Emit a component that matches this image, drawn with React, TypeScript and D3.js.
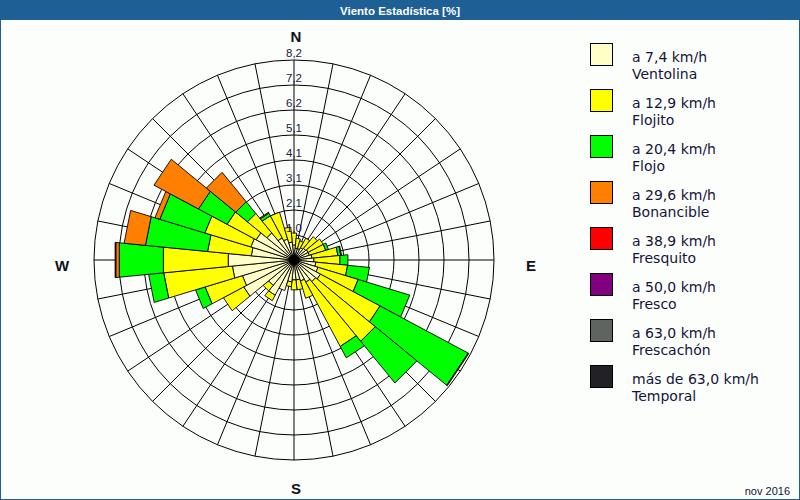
import React from 'react';
import * as d3 from 'd3';

// 32 wind directions, clockwise from North
const directions = ["N","NxE","NNE","NExN","NE","NExE","ENE","ExN","E","ExS","ESE","SExE","SE","SExS","SSE","SxE","S","SxW","SSW","SWxS","SW","SWxW","WSW","WxS","W","WxN","WNW","NWxW","NW","NWxN","NNW","NxW"];

// Frequencies [%] per speed class (stacked)
const ventolina  = [0.62,0.49,0.49,0.57,0.62,0.66,0.66,0.74,0.82,0.90,1.03,1.23,1.15,1.03,0.90,0.82,0.82,0.90,1.31,1.64,1.35,2.34,2.21,2.54,2.71,1.76,1.85,1.76,1.44,1.03,0.90,0.74];
const flojito    = [0.49,0.41,0.33,0.45,0.62,0.70,0.70,1.07,1.07,1.31,1.72,2.77,3.16,2.99,0.74,0.41,0.41,0.20,0.00,0.25,0.29,0.94,1.60,2.83,2.67,1.80,1.97,1.35,1.03,1.03,1.15,0.62];
const flojo      = [0.00,0.00,0.00,0.00,0.00,0.00,0.12,0.12,0.33,0.90,2.21,4.10,2.21,0.53,0.00,0.00,0.00,0.00,0.00,0.00,0.00,0.00,0.41,0.62,1.82,2.56,1.93,1.33,0.62,0.12,0.00,0.00];
const bonancible = [0.00,0.00,0.00,0.00,0.00,0.00,0.00,0.03,0.00,0.00,0.00,0.03,0.00,0.00,0.00,0.00,0.00,0.00,0.00,0.00,0.00,0.00,0.00,0.00,0.14,0.88,0.21,2.07,1.56,0.04,0.00,0.00];
const fresquito  = [0,0,0,0,0,0,0,0,0,0,0,0,0,0,0,0,0,0,0,0,0,0,0,0,0.03,0,0,0,0,0,0,0];
const fresco     = [0,0,0,0,0,0,0,0,0,0,0,0,0,0,0,0,0,0,0,0,0,0,0,0,0,0,0,0,0,0,0,0];
const frescachon = [0,0,0,0,0,0,0,0,0,0,0,0,0,0,0,0,0,0,0,0,0,0,0,0,0,0,0,0,0,0,0,0];
const temporal   = [0,0,0,0,0,0,0,0,0,0,0,0,0,0,0,0,0,0,0,0,0,0,0,0,0,0,0,0,0,0,0,0];

const ringValues = [1.025, 2.05, 3.075, 4.1, 5.125, 6.15, 7.175, 8.2];
const ringLabels = ["1,0", "2,1", "3,1", "4,1", "5,1", "6,2", "7,2", "8,2"];

const legendSpeeds = ["a 7,4 km/h", "a 12,9 km/h", "a 20,4 km/h", "a 29,6 km/h", "a 38,9 km/h", "a 50,0 km/h", "a 63,0 km/h", "más de 63,0 km/h"];
const legendNames = ["Ventolina", "Flojito", "Flojo", "Bonancible", "Fresquito", "Fresco", "Frescachón", "Temporal"];
const classColors = ["#ffffc8", "#ffff00", "#00ff00", "#ff8000", "#ff0000", "#800080", "#606460", "#222226"];

const compass = [
  { label: "N", x: 296, y: 42 },
  { label: "E", x: 531, y: 271 },
  { label: "S", x: 296, y: 494 },
  { label: "W", x: 62, y: 271 },
];

const title = "Viento Estadística [%]";
const footer = "nov 2016";

export default function App() {
  const W = 800, H = 500;
  const cx = 294, cy = 260;
  const maxR = 200;
  const series = [ventolina, flojito, flojo, bonancible, fresquito, fresco, frescachon, temporal];

  const r = d3.scaleLinear().domain([0, 8.2]).range([0, maxR]);
  const ang = d3.scaleLinear().domain([0, directions.length]).range([0, 2 * Math.PI]);
  const half = Math.PI / directions.length;

  const pt = (rad: number, a: number): [number, number] => [cx + rad * Math.sin(a), cy - rad * Math.cos(a)];
  const line = d3.line();

  const segments: { d: string; fill: string; key: string }[] = [];
  directions.forEach((dir, i) => {
    const a = ang(i);
    let acc = 0;
    series.forEach((s, k) => {
      const v = s[i];
      if (v <= 0) return;
      const r0 = r(acc), r1 = r(acc + v);
      acc += v;
      const d = line([pt(r0, a - half), pt(r1, a - half), pt(r1, a + half), pt(r0, a + half)]) + 'Z';
      segments.push({ d, fill: classColors[k], key: dir + k });
    });
  });

  const spokes = d3.range(directions.length).map(i => {
    const a = ang(i);
    const [x2, y2] = pt(maxR, a);
    return <line key={'s' + i} x1={cx} y1={cy} x2={x2} y2={y2} stroke="#000" strokeWidth={1} />;
  });

  const lx = 590, ly = 43, lstep = 46;

  return (
    <svg width={W} height={H} style={{ position: 'absolute', left: 0, top: 0, background: '#fcfefc' }}>
      <rect x={0} y={0} width={W} height={H} fill="#fcfefc" />
      <rect x={0} y={0} width={W} height={20} fill="#1e5f96" />
      <text x={W / 2} y={14.5} textAnchor="middle" fill="#fff" fontFamily="Liberation Sans, Arial, sans-serif" fontWeight="bold" fontSize={11.5}>{title}</text>
      <rect x={0.5} y={0.5} width={W - 1} height={H - 1} fill="none" stroke="#1e5f96" strokeWidth={1} />

      {/* grid */}
      <g>
        {spokes}
        {ringValues.map((v, i) => (
          <circle key={'c' + i} cx={cx} cy={cy} r={r(v)} fill="none" stroke="#000" strokeWidth={1} />
        ))}
      </g>

      {/* bars */}
      <g>
        {segments.map(s => (
          <path key={s.key} d={s.d} fill={s.fill} stroke="#000" strokeWidth={0.9} strokeLinejoin="miter" />
        ))}
      </g>
      <circle cx={cx} cy={cy} r={5} fill="#000" />

      {/* ring labels */}
      <g fontFamily="Liberation Sans, Arial, sans-serif" fontSize={11.5} fill="#1a1a40">
        {ringValues.map((v, i) => (
          <text key={'l' + i} x={cx} y={cy - r(v) - 3} textAnchor="middle">{ringLabels[i]}</text>
        ))}
      </g>

      {/* compass labels */}
      <g fontFamily="Liberation Sans, Arial, sans-serif" fontSize={15} fontWeight="bold" fill="#101020">
        {compass.map(c => (
          <text key={c.label} x={c.x} y={c.y} textAnchor="middle">{c.label}</text>
        ))}
      </g>

      {/* legend */}
      <g fontFamily="DejaVu Sans, Verdana, sans-serif" fontSize={14} fill="#14143a">
        {legendSpeeds.map((sp, i) => (
          <g key={'lg' + i}>
            <rect x={lx + 0.5} y={ly + i * lstep + 0.5} width={22} height={22} fill={classColors[i]} stroke="#000" strokeWidth={1} />
            <text x={632} y={ly + i * lstep + 18.5}>{sp}</text>
            <text x={632} y={ly + i * lstep + 36}>{legendNames[i]}</text>
          </g>
        ))}
      </g>

      <text x={790} y={495} textAnchor="end" fontFamily="Liberation Sans, Arial, sans-serif" fontSize={11} fill="#14143a">{footer}</text>
    </svg>
  );
}
